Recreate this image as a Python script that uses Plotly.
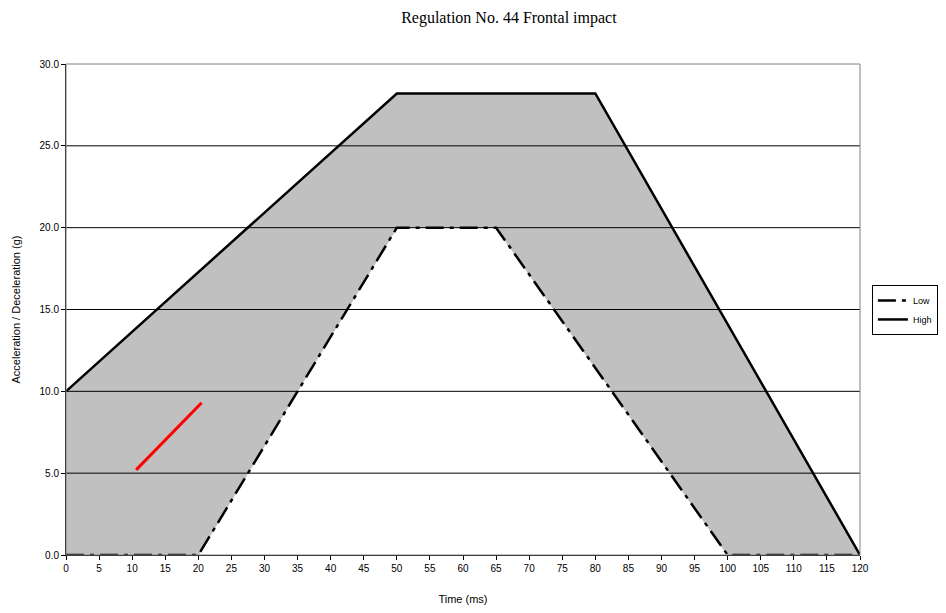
import plotly.graph_objects as go

# Data
high_t = [0, 50, 80, 120]
high_g = [10, 28.2, 28.2, 0]
low_t = [0, 20, 50, 65, 100, 120]
low_g = [0, 0, 20, 20, 0, 0]
red_t = [10.6, 20.5]
red_g = [5.2, 9.3]
x_ticks = list(range(0, 125, 5))
y_ticks = [0, 5, 10, 15, 20, 25, 30]

fig = go.Figure()

# corridor fill between high and low
fig.add_trace(go.Scatter(
    x=high_t + low_t[::-1], y=high_g + low_g[::-1],
    fill="toself", fillcolor="#c0c0c0", mode="lines",
    line=dict(color="#c0c0c0", width=1), showlegend=False, hoverinfo="skip"))

fig.add_trace(go.Scatter(x=low_t, y=low_g, mode="lines", name="Low",
                         line=dict(color="black", width=2.5, dash="18px,6px,4px,6px")))
fig.add_trace(go.Scatter(x=high_t, y=high_g, mode="lines", name="High",
                         line=dict(color="black", width=2.5)))
fig.add_trace(go.Scatter(x=red_t, y=red_g, mode="lines", showlegend=False,
                         line=dict(color="#ff0000", width=3)))

for yv in y_ticks[1:-1]:
    fig.add_shape(type="line", xref="paper", x0=0, x1=1, yref="y", y0=yv, y1=yv,
                  line=dict(color="black", width=1), layer="above")
fig.add_shape(type="rect", xref="paper", yref="paper", x0=0, x1=1, y0=0, y1=1,
              line=dict(color="#808080", width=1), layer="above")

fig.update_layout(
    width=938, height=605,
    margin=dict(l=58, r=86, t=56, b=58, autoexpand=False),
    paper_bgcolor="white", plot_bgcolor="white",
    title=dict(text="Regulation No. 44 Frontal impact", x=0.534, xanchor="center",
               y=0.993, yanchor="top",
               font=dict(family="Liberation Serif", size=16, color="black")),
    font=dict(family="Liberation Sans", size=10, color="black"),
    xaxis=dict(range=[0, 120], tickvals=x_ticks, ticktext=[str(v) for v in x_ticks],
               ticks="outside", ticklen=4, tickcolor="black", showgrid=False,
               showline=True, linecolor="black", linewidth=1, zeroline=False,
               automargin=False,
               title=dict(text="Time (ms)", font=dict(size=11), standoff=22)),
    yaxis=dict(range=[0, 30], tickvals=y_ticks, ticktext=[f"{v:.1f}" for v in y_ticks],
               ticks="outside", ticklen=4, tickcolor="black", showgrid=False,
               showline=True, linecolor="black", linewidth=1, zeroline=False,
               automargin=False,
               title=dict(text="Acceleration / Deceleration (g)", font=dict(size=11), standoff=16)),
    legend=dict(xref="container", x=0.921, y=0.55, xanchor="left", yanchor="top",
                bordercolor="black", borderwidth=1, bgcolor="white",
                font=dict(size=9), itemwidth=30, tracegroupgap=0),
)

fig.write_html("out.html")
